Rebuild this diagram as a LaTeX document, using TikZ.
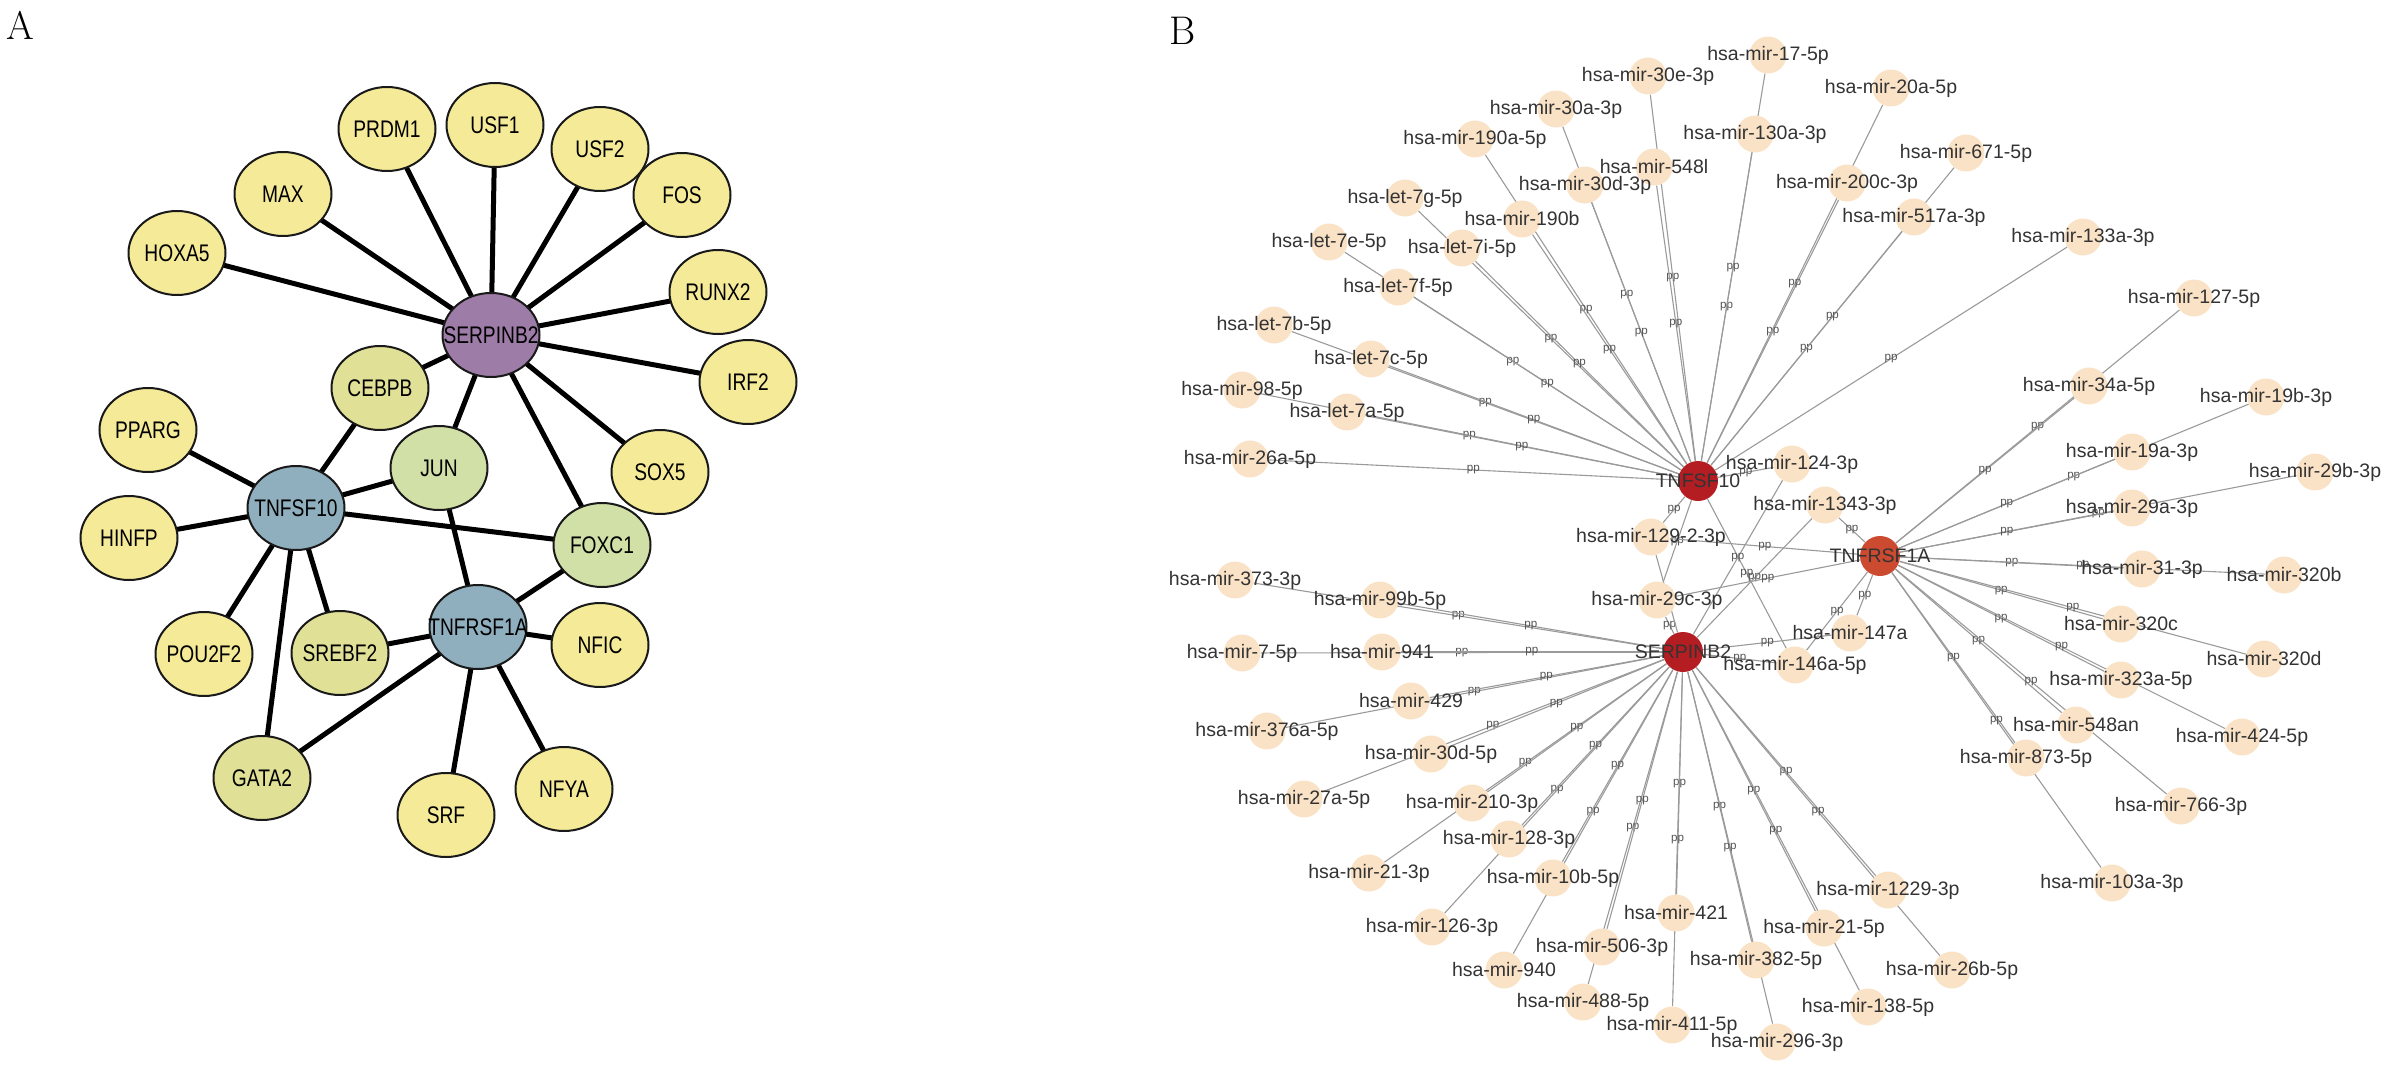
\documentclass[tikz,border=0pt]{standalone}
\usepackage{fontspec}
\newfontfamily\arialf{Liberation Sans}
\newfontfamily\condf[FakeStretch=0.8]{Liberation Sans}
\usetikzlibrary{shapes.geometric,backgrounds}
\definecolor{ayel}{HTML}{F4EA98}
\definecolor{aolive}{HTML}{E0E196}
\definecolor{agreen}{HTML}{D1E0A6}
\definecolor{apurple}{HTML}{9E7CA8}
\definecolor{ablue}{HTML}{90AFBE}
\definecolor{mifill}{HTML}{FAE2C6}
\definecolor{hubred}{HTML}{B41E22}
\definecolor{hubor}{HTML}{CC4A30}
\definecolor{edgegray}{HTML}{9A9A9A}
\definecolor{labgray}{HTML}{333333}
\definecolor{ppgray}{HTML}{555555}
\newcommand\anode[4]{\node[ell, fill=#4, label={[alab]center:#3}] (#1) at (#2) {};}
\newcommand\mirn[3]{\node[mi, label={[blab]center:#3}] (#1) at (#2) {};}
\begin{document}
\begin{tikzpicture}[x=0.5pt,y=-0.5pt,
  ell/.style={ellipse, draw=black!90, line width=1pt, minimum width=48.5pt, minimum height=42pt, inner sep=0pt},
  alab/.style={font=\condf\fontsize{12}{12}\selectfont, text=black, inner sep=0pt},
  eA/.style={line width=2.5pt, black},
  mi/.style={circle, fill=mifill, minimum size=18.5pt, inner sep=0pt},
  hub/.style={circle, minimum size=20pt, inner sep=0pt},
  blab/.style={font=\arialf\fontsize{9.75}{10}\selectfont, text=labgray, inner sep=0pt},
  eB/.style={draw=edgegray, line width=0.55pt},
  pp/.style={font=\arialf\fontsize{5.8}{6}\selectfont, text=ppgray, inner sep=0pt, midway},
  panel/.style={font=\fontsize{20}{24}\selectfont, inner sep=0pt}]
\useasboundingbox (0,0) rectangle (2387,1065);

\node[panel] (labA) at (20,25) {A};
\node[panel] (labB) at (1183,31) {B};

% ---------------- Panel A ----------------
\anode{aPRDM1}{387,129}{PRDM1}{ayel}
\anode{aUSF1}{495,125}{USF1}{ayel}
\anode{aUSF2}{600,149}{USF2}{ayel}
\anode{aMAX}{283,194}{MAX}{ayel}
\anode{aFOS}{682,195}{FOS}{ayel}
\anode{aHOXA5}{177,253}{HOXA5}{ayel}
\anode{aRUNX2}{718,292}{RUNX2}{ayel}
\anode{aS}{491,335}{SERPINB2}{apurple}
\anode{aIRF2}{748,382}{IRF2}{ayel}
\anode{aCEBPB}{380,388}{CEBPB}{aolive}
\anode{aPPARG}{148,430}{PPARG}{ayel}
\anode{aSOX5}{660,472}{SOX5}{ayel}
\anode{aJUN}{439,468}{JUN}{agreen}
\anode{aT}{296,508}{TNFSF10}{ablue}
\anode{aFOXC1}{602,545}{FOXC1}{agreen}
\anode{aHINFP}{129,538}{HINFP}{ayel}
\anode{aR}{478,627}{TNFRSF1A}{ablue}
\anode{aPOU2F2}{204,654}{POU2F2}{ayel}
\anode{aSREBF2}{340,653}{SREBF2}{aolive}
\anode{aNFIC}{600,645}{NFIC}{ayel}
\anode{aGATA2}{262,778}{GATA2}{aolive}
\anode{aSRF}{446,815}{SRF}{ayel}
\anode{aNFYA}{564,789}{NFYA}{ayel}

\begin{pgfonlayer}{background}
\foreach \t in {aPRDM1,aUSF1,aUSF2,aMAX,aFOS,aHOXA5,aRUNX2,aIRF2,aCEBPB,aJUN,aSOX5,aFOXC1}
  \draw[eA] (aS.center) -- (\t.center);
\foreach \t in {aCEBPB,aPPARG,aHINFP,aJUN,aFOXC1,aPOU2F2,aGATA2,aSREBF2}
  \draw[eA] (aT.center) -- (\t.center);
\foreach \t in {aJUN,aFOXC1,aSREBF2,aNFIC,aGATA2,aSRF,aNFYA}
  \draw[eA] (aR.center) -- (\t.center);
\end{pgfonlayer}

% ---------------- Panel B ----------------
% TNFSF10 targets
\mirn{m17}{1768,55}{hsa-mir-17-5p}
\mirn{m30e}{1648,76}{hsa-mir-30e-3p}
\mirn{m20a}{1891,88}{hsa-mir-20a-5p}
\mirn{m30a}{1556,109}{hsa-mir-30a-3p}
\mirn{m130a}{1755,134}{hsa-mir-130a-3p}
\mirn{m190a}{1475,139}{hsa-mir-190a-5p}
\mirn{m671}{1966,153}{hsa-mir-671-5p}
\mirn{m548l}{1654,167}{hsa-mir-548l}
\mirn{m200c}{1847,183}{hsa-mir-200c-3p}
\mirn{m30dt}{1585,185}{hsa-mir-30d-3p}
\mirn{l7g}{1405,198}{hsa-let-7g-5p}
\mirn{m517}{1914,217}{hsa-mir-517a-3p}
\mirn{m190b}{1522,219}{hsa-mir-190b}
\mirn{m133}{2083,237}{hsa-mir-133a-3p}
\mirn{l7e}{1329,242}{hsa-let-7e-5p}
\mirn{l7i}{1462,248}{hsa-let-7i-5p}
\mirn{l7f}{1398,287}{hsa-let-7f-5p}
\mirn{l7b}{1274,325}{hsa-let-7b-5p}
\mirn{l7c}{1371,359}{hsa-let-7c-5p}
\mirn{m98}{1242,390}{hsa-mir-98-5p}
\mirn{l7a}{1347,412}{hsa-let-7a-5p}
\mirn{m26a}{1250,459}{hsa-mir-26a-5p}
% shared
\mirn{m124}{1792,464}{hsa-mir-124-3p}
\mirn{m1343}{1825,505}{hsa-mir-1343-3p}
\mirn{m129}{1651,537}{hsa-mir-129-2-3p}
\mirn{m29c}{1657,600}{hsa-mir-29c-3p}
\mirn{m147}{1850,633}{hsa-mir-147a}
\mirn{m146}{1795,665}{hsa-mir-146a-5p}
% TNFRSF1A targets
\mirn{m127}{2194,298}{hsa-mir-127-5p}
\mirn{m34a}{2089,386}{hsa-mir-34a-5p}
\mirn{m19b}{2266,397}{hsa-mir-19b-3p}
\mirn{m19a}{2132,452}{hsa-mir-19a-3p}
\mirn{m29b}{2315,472}{hsa-mir-29b-3p}
\mirn{m29a}{2132,508}{hsa-mir-29a-3p}
\mirn{m31}{2142,569}{hsa-mir-31-3p}
\mirn{m320b}{2284,575}{hsa-mir-320b}
\mirn{m320c}{2121,624}{hsa-mir-320c}
\mirn{m320d}{2264,659}{hsa-mir-320d}
\mirn{m323}{2121,680}{hsa-mir-323a-5p}
\mirn{m548an}{2076,725}{hsa-mir-548an}
\mirn{m424}{2242,737}{hsa-mir-424-5p}
\mirn{m873}{2026,758}{hsa-mir-873-5p}
\mirn{m766}{2181,806}{hsa-mir-766-3p}
\mirn{m103}{2112,883}{hsa-mir-103a-3p}
% SERPINB2 targets
\mirn{m373}{1235,580}{hsa-mir-373-3p}
\mirn{m99b}{1380,600}{hsa-mir-99b-5p}
\mirn{m7}{1242,653}{hsa-mir-7-5p}
\mirn{m941}{1382,652}{hsa-mir-941}
\mirn{m429}{1411,701}{hsa-mir-429}
\mirn{m376}{1267,731}{hsa-mir-376a-5p}
\mirn{m30df}{1431,754}{hsa-mir-30d-5p}
\mirn{m27a}{1304,799}{hsa-mir-27a-5p}
\mirn{m210}{1472,803}{hsa-mir-210-3p}
\mirn{m128}{1509,839}{hsa-mir-128-3p}
\mirn{m21t}{1369,873}{hsa-mir-21-3p}
\mirn{m10b}{1553,878}{hsa-mir-10b-5p}
\mirn{m1229}{1888,890}{hsa-mir-1229-3p}
\mirn{m421}{1676,913}{hsa-mir-421}
\mirn{m126}{1432,927}{hsa-mir-126-3p}
\mirn{m21f}{1824,928}{hsa-mir-21-5p}
\mirn{m506}{1602,947}{hsa-mir-506-3p}
\mirn{m382}{1756,960}{hsa-mir-382-5p}
\mirn{m940}{1504,970}{hsa-mir-940}
\mirn{m26b}{1952,970}{hsa-mir-26b-5p}
\mirn{m488}{1583,1002}{hsa-mir-488-5p}
\mirn{m138}{1868,1007}{hsa-mir-138-5p}
\mirn{m411}{1672,1025}{hsa-mir-411-5p}
\mirn{m296}{1777,1042}{hsa-mir-296-3p}
% hubs
\node[hub, fill=hubred, label={[blab]center:TNFSF10}] (bT) at (1698,481) {};
\node[hub, fill=hubred, label={[blab]center:SERPINB2}] (bS) at (1683,652) {};
\node[hub, fill=hubor, label={[blab]center:TNFRSF1A}] (bR) at (1880,556) {};

\begin{pgfonlayer}{background}
\foreach \t in {m26a,m98,l7a,l7b,l7c,l7e,l7f,l7g,l7i,m190a,m190b,m30a,m30dt,m30e,m548l,m130a,m17,m200c,m20a,m517,m671,m133,m124,m129,m29c,m146}
  \draw[eB] (bT) -- node[pp]{pp} (\t);
\foreach \t in {m373,m99b,m7,m941,m376,m429,m27a,m30df,m21t,m210,m126,m128,m940,m10b,m488,m506,m421,m411,m382,m296,m21f,m138,m1229,m26b,m29c,m129,m124,m1343,m147,m146}
  \draw[eB] (bS) -- node[pp]{pp} (\t);
\foreach \t in {m127,m34a,m19b,m19a,m29b,m29a,m31,m320b,m320c,m320d,m323,m424,m548an,m766,m873,m103,m1343,m147,m129,m29c,m146}
  \draw[eB] (bR) -- node[pp]{pp} (\t);
\end{pgfonlayer}
\end{tikzpicture}
\end{document}
